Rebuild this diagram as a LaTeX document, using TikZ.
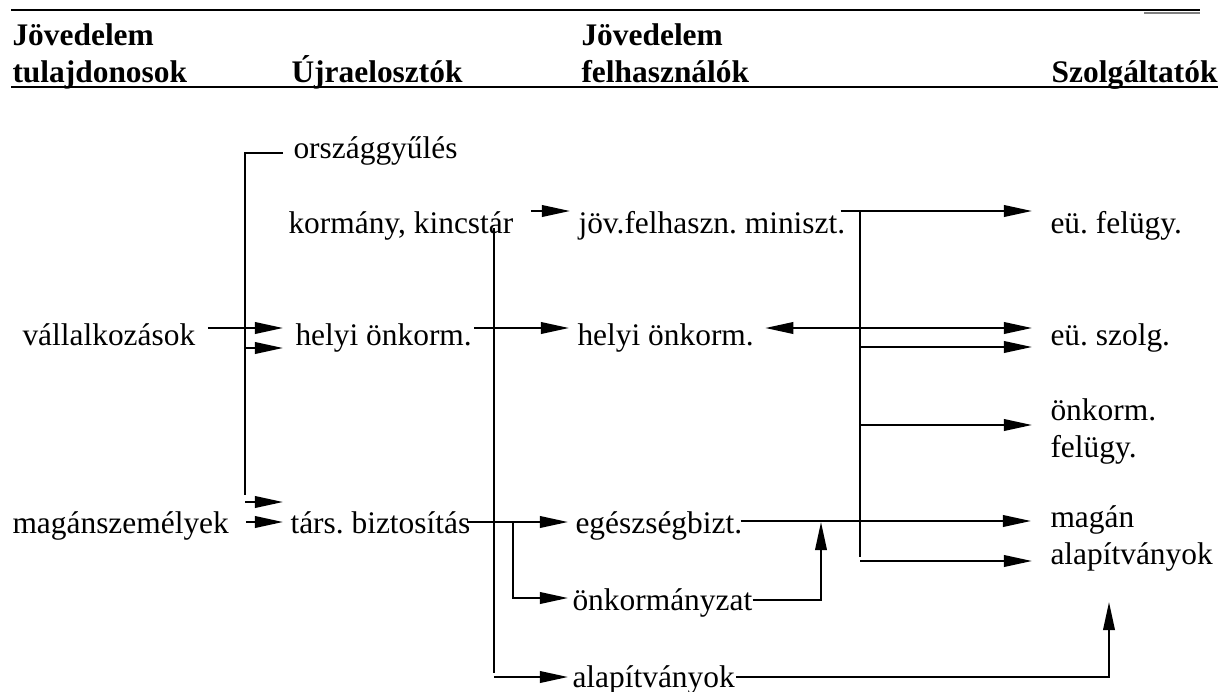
\documentclass[tikz,border=0pt]{standalone}
\usepackage{fontspec}
\setmainfont{Liberation Serif}
\usetikzlibrary{arrows.meta}
\begin{document}
\frenchspacing
\begin{tikzpicture}[x=0.382pt,y=-0.382pt,
  lab/.style={anchor=base west,inner sep=0pt,font=\fontsize{12}{14.5}\selectfont\frenchspacing},
  labr/.style={lab,anchor=base east},
  hd/.style={lab,font=\fontsize{12}{14.5}\selectfont\bfseries},
  hdr/.style={hd,anchor=base east},
  ln/.style={line width=0.76pt},
  arr/.style={ln,-{Triangle[length=10.7pt,width=4.4pt]}},
  darr/.style={ln,{Triangle[length=10.7pt,width=4.4pt]}-{Triangle[length=10.7pt,width=4.4pt]}},
]
\useasboundingbox (0,0) rectangle (1229,691);

% header rules
\draw[line width=0.76pt] (11,10) -- (1200,10);
\draw[line width=0.5pt,gray] (1144,13) -- (1200,13);
\draw[line width=1.05pt] (11,87) -- (1218,87);

% header texts
\node[hd] (jov1) at (12,45) {Jövedelem};
\node[hd] (tul) at (12,82) {tulajdonosok};
\node[hd] (ujra) at (291,82) {Újraelosztók};
\node[hd] (jov2) at (581,45) {Jövedelem};
\node[hd] (felh) at (581,82) {felhasználók};
\node[hdr] (szolg) at (1218,82) {Szolgáltatók};

% text nodes
\node[lab] (orsz) at (293,158) {országgyűlés};
\node[lab] (korm) at (288,233) {kormány, kincstár};
\node[lab] (mini) at (578,233) {jöv.felhaszn. miniszt.};
\node[lab] (eufel) at (1050,233) {eü. felügy.};
\node[lab] (vall) at (22,345) {vállalkozások};
\node[lab] (helyi1) at (295,345) {helyi önkorm.};
\node[lab] (helyi2) at (577,345) {helyi önkorm.};
\node[lab] (euszolg) at (1050,345) {eü. szolg.};
\node[lab] (onkfel) at (1050,420) {\begin{tabular}[t]{@{}l@{}}önkorm.\\felügy.\end{tabular}};
\node[lab] (magsz) at (12,533) {magánszemélyek};
\node[lab] (tars) at (290,533) {társ. biztosítás};
\node[lab] (egesz) at (575,533) {egészségbizt.};
\node[lab] (magalap) at (1050,527) {\begin{tabular}[t]{@{}l@{}}magán\\alapítványok\end{tabular}};
\node[lab] (onkorm) at (572,610) {önkormányzat};
\node[lab] (alap) at (572,687) {alapítványok};

% junction coordinates
\coordinate (brk) at (245,153);
\coordinate (brkend) at (245,495);
\coordinate (v2top) at (494,228);
\coordinate (v2bot) at (494,673);
\coordinate (v2foot) at (494,677);
\coordinate (v3top) at (860,211);
\coordinate (v3bot) at (860,557);
\coordinate (br) at (513,522);
\coordinate (brbot) at (513,598);
\coordinate (c1) at (821,600);
\coordinate (c1top) at (821,522);
\coordinate (c2) at (1109,677);
\coordinate (c2top) at (1109,602);

% bracket from országgyűlés
\draw[ln] ([shift={(-10,-5)}]orsz.base west) -- (brk) -- (brkend);
\draw[arr] (brk |- 0,348) -- ([shift={(-12,3)}]helyi1.base west);
\draw[arr] (brk |- 0,502) -- ([shift={(-7,-31)}]tars.base west);

% income owners
\draw[arr] ([shift={(12,-17)}]vall.base east) -- ([shift={(-12,-17)}]helyi1.base west);
\draw[arr] ([shift={(17,-11)}]magsz.base east) -- ([shift={(-7,-11)}]tars.base west);

% redistributors to users
\draw[arr] ([shift={(17,-22)}]korm.base east) -- ([shift={(-8,-22)}]mini.base west);
\draw[arr] ([shift={(2,-17)}]helyi1.base east) -- ([shift={(-8,-17)}]helyi2.base west);
\draw[arr] ([shift={(-4,-11)}]tars.base east) -- ([shift={(-7,-11)}]egesz.base west);
\draw[arr] (br) -- (brbot) -- ([shift={(-4,-12)}]onkorm.base west);
\draw[ln] (v2top) -- (v2bot);
\draw[arr] (v2foot) -- ([shift={(-4,-10)}]alap.base west);

% users to providers
\draw[arr] ([shift={(-5,-22)}]mini.base east) -- ([shift={(-18,-22)}]eufel.base west);
\draw[ln] (v3top) -- (v3bot);
\draw[darr] ([shift={(11,-17)}]helyi2.base east) -- ([shift={(-18,-17)}]euszolg.base west);
\draw[arr] (v3top |- 0,347) -- ([shift={(-18,2)}]euszolg.base west);
\draw[arr] (v3top |- 0,425) -- ([shift={(-18,5)}]onkfel.base west);
\draw[arr] ([shift={(-2,-12)}]egesz.base east) -- ([shift={(-19,-6)}]magalap.base west);
\draw[arr] (v3top |- 0,561) -- ([shift={(-18,34)}]magalap.base west);
\draw[arr] ([shift={(0,-10)}]onkorm.base east) -- (c1) -- (c1top);
\draw[arr] ([shift={(1,-10)}]alap.base east) -- (c2) -- (c2top);
\end{tikzpicture}
\end{document}
